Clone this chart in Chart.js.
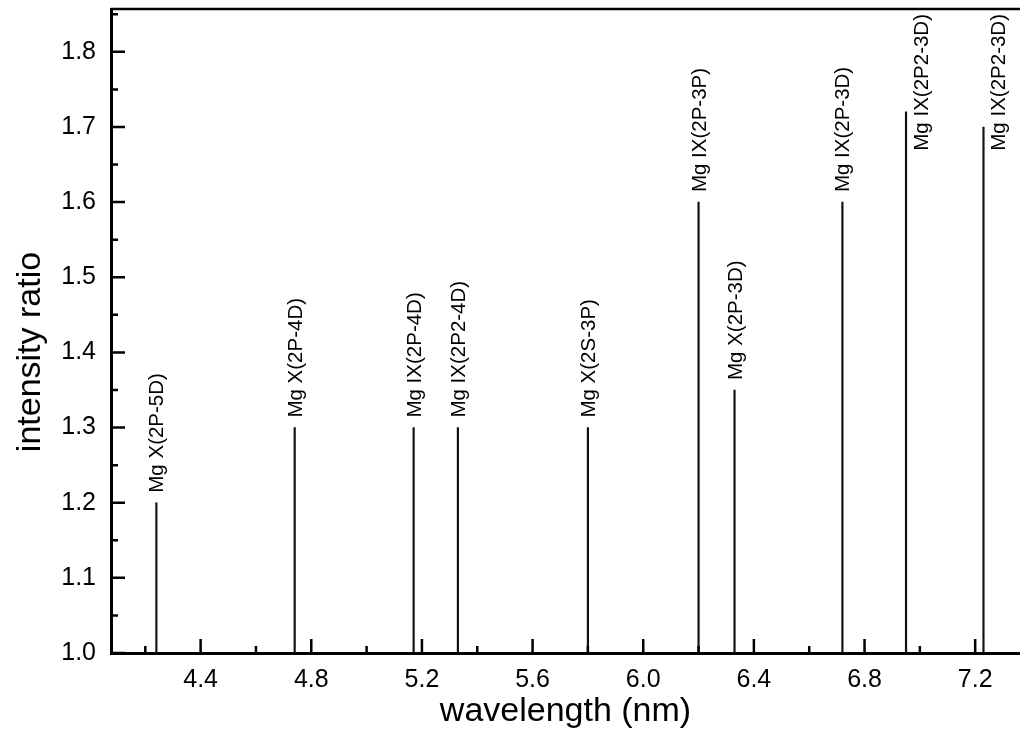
<!DOCTYPE html>
<html>
<head>
<meta charset="utf-8">
<script src="https://cdn.jsdelivr.net/npm/chart.js@4.4.0/dist/chart.umd.min.js"></script>
<style>
    html, body { margin: 0; padding: 0; background: #fff; }
    #wrap { position: relative; width: 1020px; height: 747px; }
</style>
</head>
<body>
<div id="wrap"><canvas id="spectrumChart"></canvas></div>
<script>
// 谱线数据
const wavelengths = [4.24, 4.74, 5.17, 5.33, 5.80, 6.20, 6.33, 6.72, 6.95, 7.23];
const intensityRatios = [1.20, 1.30, 1.30, 1.30, 1.30, 1.60, 1.35, 1.60, 1.72, 1.70];
const lineLabels = [
    'Mg X(2P-5D)', 'Mg X(2P-4D)', 'Mg IX(2P-4D)', 'Mg IX(2P2-4D)', 'Mg X(2S-3P)',
    'Mg IX(2P-3P)', 'Mg X(2P-3D)', 'Mg IX(2P-3D)', 'Mg IX(2P2-3D)', 'Mg IX(2P2-3D)'
];

// 刻度
const xMajorTicks = [4.4, 4.8, 5.2, 5.6, 6.0, 6.4, 6.8, 7.2];
const xMinorTicks = [4.2, 4.6, 5.0, 5.4, 5.8, 6.2, 6.6, 7.0];
const yMajorTicks = [1.0, 1.1, 1.2, 1.3, 1.4, 1.5, 1.6, 1.7, 1.8];
const yMinorTicks = [1.05, 1.15, 1.25, 1.35, 1.45, 1.55, 1.65, 1.75, 1.85];

const yAxisTitle = 'intensity ratio';
const FONT = '"Liberation Sans", Arial, Helvetica, sans-serif';

// 向内的刻度线 + 顶部边框 + 纵轴标题
const inwardTicks = {
    id: 'inwardTicks',
    afterDraw(chart) {
        const ctx = chart.ctx;
        const xs = chart.scales.x;
        const ys = chart.scales.y;
        const area = chart.chartArea;
        ctx.save();
        ctx.strokeStyle = '#000';
        ctx.lineWidth = 2.5;
        ctx.beginPath();
        xMajorTicks.forEach(v => {
            const px = xs.getPixelForValue(v);
            ctx.moveTo(px, area.bottom);
            ctx.lineTo(px, area.bottom - 14);
        });
        xMinorTicks.forEach(v => {
            const px = xs.getPixelForValue(v);
            ctx.moveTo(px, area.bottom);
            ctx.lineTo(px, area.bottom - 7);
        });
        yMajorTicks.forEach(v => {
            const py = ys.getPixelForValue(v);
            ctx.moveTo(area.left, py);
            ctx.lineTo(area.left + 14, py);
        });
        yMinorTicks.forEach(v => {
            const py = ys.getPixelForValue(v);
            ctx.moveTo(area.left, py);
            ctx.lineTo(area.left + 7, py);
        });
        ctx.stroke();

        ctx.beginPath();
        ctx.moveTo(area.left, area.top);
        ctx.lineTo(area.right, area.top);
        ctx.stroke();

        // 纵轴标题（比图区中心略低）
        ctx.fillStyle = '#000';
        ctx.font = '34px ' + FONT;
        ctx.textAlign = 'center';
        ctx.textBaseline = 'alphabetic';
        ctx.translate(40, (area.top + area.bottom) / 2 + 21);
        ctx.rotate(-Math.PI / 2);
        ctx.fillText(yAxisTitle, 0, 0);
        ctx.restore();
    }
};

// 谱线标注（竖排文字）
const lineLabelPlugin = {
    id: 'lineLabels',
    afterDatasetsDraw(chart) {
        const ctx = chart.ctx;
        const meta = chart.getDatasetMeta(0);
        const area = chart.chartArea;
        ctx.save();
        ctx.font = '20.5px ' + FONT;
        ctx.fillStyle = '#000';
        ctx.textAlign = 'left';
        ctx.textBaseline = 'alphabetic';
        meta.data.forEach((bar, i) => {
            const text = lineLabels[i];
            const w = ctx.measureText(text).width;
            let tx, ty;
            if (bar.y - 10 - w < area.top + 4) {
                // 上方放不下，放到线的右边
                tx = bar.x + 22;
                ty = area.top + 5 + w;
            } else {
                tx = bar.x + 7;
                ty = bar.y - 10;
            }
            ctx.save();
            ctx.translate(tx, ty);
            ctx.rotate(-Math.PI / 2);
            ctx.fillText(text, 0, 0);
            ctx.restore();
        });
        ctx.restore();
    }
};

const ctx = document.getElementById('spectrumChart');
new Chart(ctx, {
    type: 'bar',
    data: {
        datasets: [{
            data: wavelengths.map((w, i) => ({ x: w, y: [1.0, intensityRatios[i]] })),
            backgroundColor: '#111',
            borderWidth: 0,
            barThickness: 1.5,
            grouped: false
        }]
    },
    options: {
        responsive: true,
        maintainAspectRatio: false,
        animation: false,
        layout: { padding: { top: 9, right: 0, bottom: 0, left: 0 } },
        plugins: {
            legend: { display: false },
            tooltip: { enabled: false }
        },
        scales: {
            x: {
                type: 'linear',
                offset: false,
                min: 4.076,
                max: 7.362,
                afterBuildTicks: scale => {
                    scale.ticks = xMajorTicks.map(v => ({ value: v }));
                },
                afterFit: scale => {
                    scale.height = 94;
                    scale.paddingLeft = 0;
                    scale.paddingRight = 0;
                },
                ticks: {
                    autoSkip: false,
                    maxRotation: 0,
                    padding: 12,
                    color: '#000',
                    font: { size: 25, family: FONT },
                    callback: v => v.toFixed(1)
                },
                grid: { drawOnChartArea: false, drawTicks: false },
                border: { display: true, color: '#000', width: 3 },
                title: {
                    display: true,
                    text: 'wavelength (nm)',
                    color: '#000',
                    font: { size: 34, family: FONT },
                    padding: { top: 0, bottom: 15 }
                }
            },
            y: {
                min: 1.0,
                max: 1.857,
                afterBuildTicks: scale => {
                    scale.ticks = yMajorTicks.map(v => ({ value: v }));
                },
                afterFit: scale => {
                    scale.width = 111;
                    scale.paddingTop = 0;
                    scale.paddingBottom = 0;
                },
                ticks: {
                    autoSkip: false,
                    padding: 15,
                    color: '#000',
                    font: { size: 25, family: FONT },
                    callback: v => v.toFixed(1)
                },
                grid: { drawOnChartArea: false, drawTicks: false },
                border: { display: true, color: '#000', width: 3 }
            }
        }
    },
    plugins: [inwardTicks, lineLabelPlugin]
});
</script>
</body>
</html>
